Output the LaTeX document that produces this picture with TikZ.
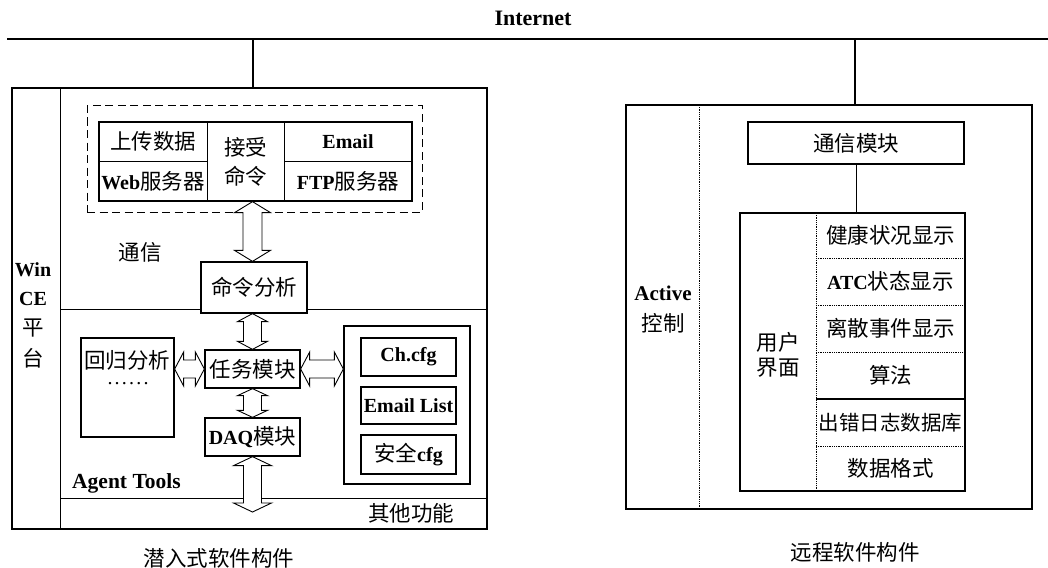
\documentclass[tikz,border=0pt]{standalone}
\usepackage{fontspec}
\setmainfont{Liberation Serif}
\newfontfamily\cjk{Noto Sans CJK SC}
\newcommand\zh[1]{{\cjk\mdseries\fontsize{21.5}{24}\selectfont #1}}
\newcommand\zhs[1]{{\cjk\mdseries\fontsize{20.5}{24}\selectfont #1}}
\newcommand\dotk{.\kern2.2pt}
\usetikzlibrary{calc}
\tikzset{
  txt/.style={font=\fontsize{20}{24}\selectfont\bfseries},
  frame/.style={draw, line width=1.3pt, inner sep=0pt, txt},
  cell/.style={draw, line width=1pt, inner sep=0pt, txt},
  lbl/.style={inner sep=0pt, txt},
  sep/.style={line width=0.9pt},
  dotline/.style={line width=0.8pt, densely dotted},
  dar/.style={draw, line width=0.9pt, fill=white, line join=miter},
}
% vertical double arrow: top point, bottom point, head half width, shaft half width, head length
\newcommand\vdar[5]{%
  \draw[dar] let \p1=#1, \p2=#2 in
   (\x1,\y1) -- (\x1-#3pt,\y1-#5pt) -- (\x1-#4pt,\y1-#5pt) -- (\x1-#4pt,\y2+#5pt)
   -- (\x1-#3pt,\y2+#5pt) -- (\x1,\y2) -- (\x1+#3pt,\y2+#5pt) -- (\x1+#4pt,\y2+#5pt)
   -- (\x1+#4pt,\y1-#5pt) -- (\x1+#3pt,\y1-#5pt) -- cycle;}
% horizontal double arrow: left point, right point, head half width, shaft half width, head length
\newcommand\hdar[5]{%
  \draw[dar] let \p1=#1, \p2=#2 in
   (\x1,\y1) -- (\x1+#5pt,\y1+#3pt) -- (\x1+#5pt,\y1+#4pt) -- (\x2-#5pt,\y1+#4pt)
   -- (\x2-#5pt,\y1+#3pt) -- (\x2,\y1) -- (\x2-#5pt,\y1-#3pt) -- (\x2-#5pt,\y1-#4pt)
   -- (\x1+#5pt,\y1-#4pt) -- (\x1+#5pt,\y1-#3pt) -- cycle;}
\begin{document}
\begin{tikzpicture}[x=1pt,y=-1pt]
\useasboundingbox (0,0) rectangle (1048,567);

% Internet bus
\node[lbl, font=\fontsize{22}{24}\selectfont\bfseries] (inet) at (533,18) {Internet};
\coordinate (inl) at (7,39);
\coordinate (inr) at (1048,39);
\draw[line width=1.3pt] (inl) -- (inr);
\coordinate (tapL) at (253,39);
\coordinate (tapR) at (855,39);

% ===== Left: embedded software =====
\node[frame, minimum width=475pt, minimum height=441pt] (L) at (249.5,308.5) {};
\draw[sep] (60,88) -- (60,529);
\draw[sep] (60,309) -- (487,309);
\draw[sep] (60,498) -- (487,498);
\draw[line width=1.2pt] (tapL) -- (tapL |- L.north);

\node[lbl] (win) at (33,270) {Win};
\node[lbl] (ce) at (33,299) {CE};
\node[lbl] (ping) at (33,328) {\zh{平}};
\node[lbl] (tai) at (33,358) {\zh{台}};

% communication group
\node[draw, line width=1pt, dash pattern=on 8pt off 4.5pt, minimum width=335pt, minimum height=106pt, inner sep=0pt] (dash) at (254.5,159) {};
\node[cell, minimum width=108pt, minimum height=39pt] (up) at (153,141.5) {\zh{上传数据}};
\node[cell, minimum width=108pt, minimum height=40pt] (web) at (153,181) {Web\zh{服务器}};
\node[cell, minimum width=77pt, minimum height=79pt] (recv) at (245.5,161.5) {};
\node[lbl] (recv1) at (245.5,147) {\zh{接受}};
\node[lbl] (recv2) at (245.5,176) {\zh{命令}};
\node[cell, minimum width=128pt, minimum height=39pt] (email) at (348,141.5) {Email};
\node[cell, minimum width=128pt, minimum height=40pt] (ftp) at (348,181) {FTP\zh{服务器}};
\node[frame, minimum width=313pt, minimum height=79pt] (tbl) at (255.5,161.5) {};

\node[lbl] (tongxin) at (140,252) {\zh{通信}};
\node[frame, fill=white, minimum width=106pt, minimum height=51pt] (cmdan) at (254,287.5) {\zh{命令分析}};

% agent tools
\node[frame, minimum width=95pt, minimum height=38pt] (task) at (252.5,369) {\zh{任务模块}};
\node[frame, minimum width=93pt, minimum height=99pt] (reg) at (127.5,387.5) {};
\node[lbl] (regt) at (127,360) {\zh{回归分析}};
\node[lbl, font=\fontsize{20}{22}\selectfont\mdseries] (dots) at (128,384) {\dotk\dotk\dotk\dotk\dotk.};
\node[frame, minimum width=95pt, minimum height=38pt] (daq) at (252.5,437) {DAQ\zh{模块}};
\node[frame, minimum width=126pt, minimum height=158pt] (cfg) at (407,405) {};
\node[frame, minimum width=95pt, minimum height=38pt] (ch) at (408.5,357) {Ch.cfg};
\node[frame, minimum width=95pt, minimum height=37pt] (elist) at (408.5,405.5) {Email List};
\node[frame, minimum width=95pt, minimum height=39pt] (safe) at (408.5,454.5) {\zh{安全}cfg};
\node[lbl, anchor=west, font=\fontsize{21.5}{24}\selectfont\bfseries] (agent) at (72,483) {Agent Tools};
\node[lbl] (other) at (411,513) {\zh{其他功能}};
\coordinate (otherend) at (252.5,512);

% double arrows
\vdar{(tbl.south -| task.north)}{(cmdan.north -| task.north)}{18}{9.5}{11}
\vdar{(cmdan.south -| task.north)}{(task.north)}{15}{9}{8}
\vdar{(task.south)}{(daq.north)}{15}{9}{7}
\vdar{(daq.south)}{(otherend)}{19}{9}{9}
\hdar{(reg.east |- task.west)}{(task.west)}{17}{9}{9}
\hdar{(task.east)}{(cfg.west |- task.east)}{17}{9}{9}

\node[lbl] (capL) at (219,558) {\zh{潜入式软件构件}};

% ===== Right: remote software =====
\node[frame, minimum width=406pt, minimum height=404pt] (R) at (829,307) {};
\draw[dotline] (699,105) -- (699,509);
\draw[line width=1.2pt] (tapR) -- (tapR |- R.north);
\node[lbl, font=\fontsize{21}{24}\selectfont\bfseries] (active) at (663,293) {Active};
\node[lbl] (ctrl) at (663,323) {\zh{控制}};

\node[frame, minimum width=216pt, minimum height=42pt] (cm) at (856,143) {\zh{通信模块}};
\node[frame, minimum width=225pt, minimum height=278pt] (ui) at (852.5,352) {};
\draw[sep] (cm.south) -- (cm.south |- ui.north);
\draw[dotline] (816,213) -- (816,491);
\node[lbl] (yh) at (778,342) {\zh{用户}};
\node[lbl] (jm) at (778,368) {\zh{界面}};
\node[lbl] (r1) at (890.5,235.5) {\zh{健康状况显示}};
\node[lbl] (r2) at (890.5,281.5) {ATC\zh{状态显示}};
\node[lbl] (r3) at (890.5,328.5) {\zh{离散事件显示}};
\node[lbl] (r4) at (890.5,375.5) {\zh{算法}};
\node[lbl] (r5) at (890.5,422.5) {\zhs{出错日志数据库}};
\node[lbl] (r6) at (890.5,468.5) {\zh{数据格式}};
\draw[dotline] (816,258) -- (965,258);
\draw[dotline] (816,305) -- (965,305);
\draw[dotline] (816,352) -- (965,352);
\draw[line width=1.2pt] (816,399) -- (965,399);
\draw[dotline] (816,446) -- (965,446);

\node[lbl] (capR) at (855,552) {\zh{远程软件构件}};
\end{tikzpicture}
\end{document}
